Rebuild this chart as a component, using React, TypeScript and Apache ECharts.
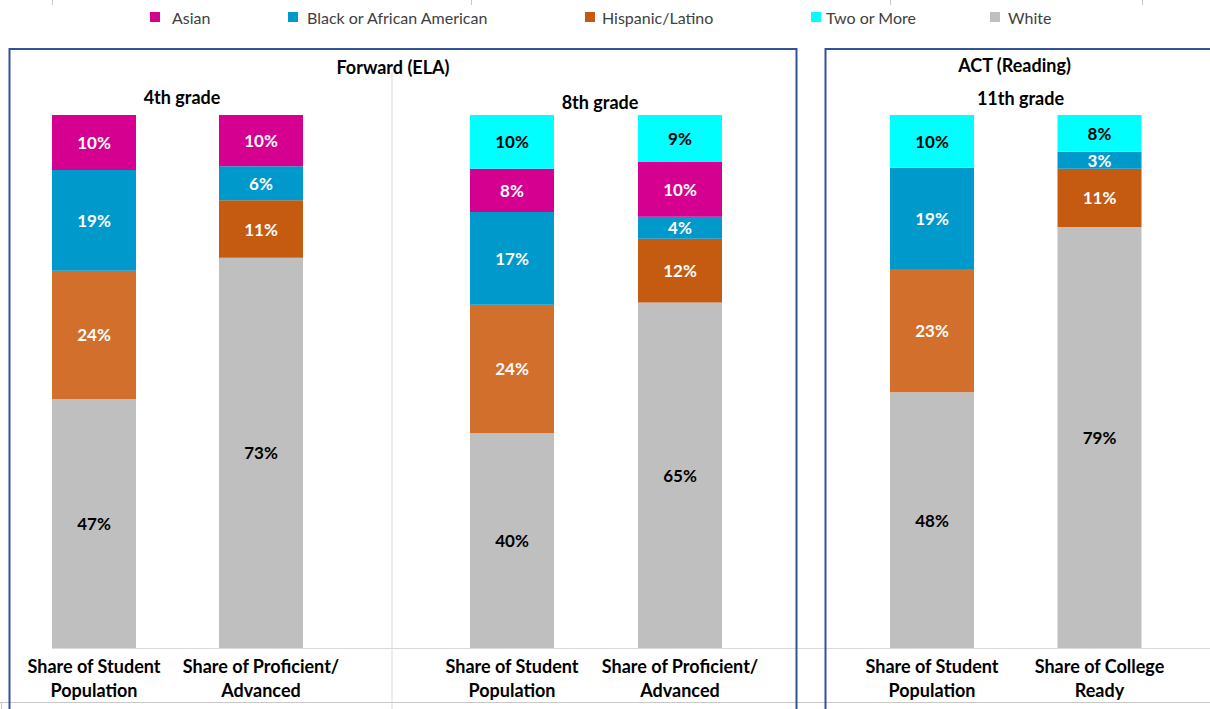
import React, { useEffect, useRef } from "react";
import * as echarts from "echarts";

// ---- data ----
const categories4 = ["Share of Student\nPopulation", "Share of Proficient/\nAdvanced"];
const categories8 = ["Share of Student\nPopulation", "Share of Proficient/\nAdvanced"];
const categories11 = ["Share of Student\nPopulation", "Share of College\nReady"];

const white4 = [46.7, 73.2];
const hispanic4 = [24.1, 10.8];
const black4 = [18.9, 6.4];
const asian4 = [10.3, 9.6];

const white8 = [40.3, 64.8];
const hispanic8 = [24.1, 12.0];
const black8 = [17.4, 4.1];
const asian8 = [8.1, 10.3];
const two8 = [10.1, 8.8];

const white11 = [48.0, 79.0];
const hispanic11 = [23.1, 10.9];
const black11 = [19.0, 3.2];
const two11 = [9.9, 7.5];

const legendNames = ["Asian", "Black or African American", "Hispanic/Latino", "Two or More", "White"];
const panelTitles = ["Forward (ELA)", "ACT (Reading)"];
const gradeTitles = ["4th grade", "8th grade", "11th grade"];

// ---- styles ----
const COLORS: Record<string, string> = {
  Asian: "#D5008F",
  "Black or African American": "#0099CB",
  "Hispanic/Latino": "#C55A11",
  "Two or More": "#00FFFF",
  White: "#BFBFBF",
};
const HISPANIC_POP = "#D26F2C";
const FONT = "Lato, 'Open Sans', sans-serif";

function pctLabel(dark: boolean) {
  return {
    show: true,
    position: "inside",
    formatter: (p: any) => Math.round(p.value) + "%",
    color: dark ? "#000000" : "#FFFFFF",
    fontWeight: "bold",
    fontSize: 17,
    fontFamily: FONT,
  };
}

function makeSeries(name: string, values: number[], idx: number, darkText: boolean, popColor?: string) {
  return {
    type: "bar",
    name,
    xAxisIndex: idx,
    yAxisIndex: idx,
    stack: "s" + idx,
    barWidth: 84,
    clip: true,
    itemStyle: { color: COLORS[name] },
    label: pctLabel(darkText),
    data: values.map((v, i) =>
      popColor && i === 0 ? { value: v, itemStyle: { color: popColor } } : v
    ),
  };
}

export default function App() {
  const ref = useRef<HTMLDivElement>(null);
  useEffect(() => {
    if (!ref.current) return;
    const chart = echarts.init(ref.current, undefined, { renderer: "svg" });

    const grids = [
      { left: 10.5, width: 334, top: 115, height: 533 },
      { left: 428, width: 336, top: 115, height: 533 },
      { left: 848.25, width: 335, top: 115, height: 533 },
    ];
    const cats = [categories4, categories8, categories11];

    const xAxis = cats.map((c, i) => ({
      type: "category",
      gridIndex: i,
      data: c,
      axisLine: { show: false },
      axisTick: { show: false },
      axisLabel: {
        interval: 0,
        margin: 6,
        color: "#000000",
        fontWeight: "bold",
        fontSize: 18,
        lineHeight: 24,
        fontFamily: FONT,
      },
    }));
    const yAxis = cats.map((_, i) => ({
      type: "value",
      gridIndex: i,
      min: 0,
      max: 100,
      show: false,
      splitLine: { show: false },
    }));

    const series = [
      makeSeries("White", white4, 0, true),
      makeSeries("Hispanic/Latino", hispanic4, 0, false, HISPANIC_POP),
      makeSeries("Black or African American", black4, 0, false),
      makeSeries("Asian", asian4, 0, false),

      makeSeries("White", white8, 1, true),
      makeSeries("Hispanic/Latino", hispanic8, 1, false, HISPANIC_POP),
      makeSeries("Black or African American", black8, 1, false),
      makeSeries("Asian", asian8, 1, false),
      makeSeries("Two or More", two8, 1, true),

      makeSeries("White", white11, 2, true),
      makeSeries("Hispanic/Latino", hispanic11, 2, false, HISPANIC_POP),
      makeSeries("Black or African American", black11, 2, false),
      makeSeries("Two or More", two11, 2, true),
    ];

    const legendLefts = [150, 288, 585, 811, 990];
    const legendPads = [7, 4, 2, 0, 3];
    const legend = legendNames.map((n, i) => ({
      data: [n],
      left: legendLefts[i],
      top: 9,
      padding: 0,
      itemWidth: 10,
      itemHeight: 10,
      icon: "rect",
      selectedMode: false,
      textStyle: {
        color: "#404040",
        fontSize: 16,
        fontFamily: FONT,
        padding: [0, 0, 0, legendPads[i]],
      },
    }));

    const gray = "#D9D9D9";
    const blue = "#2F5597";
    const titleText = (text: string, x: number, y: number) => ({
      type: "text",
      z: 10,
      style: {
        text,
        x,
        y,
        align: "center",
        verticalAlign: "middle",
        fill: "#000000",
        fontSize: 18,
        fontWeight: "bold",
        fontFamily: FONT,
      },
    });
    const line = (x1: number, y1: number, x2: number, y2: number, color: string, w: number, z: number) => ({
      type: "line",
      z,
      silent: true,
      shape: { x1, y1, x2, y2 },
      style: { stroke: color, lineWidth: w },
    });

    const graphic = [
      line(52.5, 0, 52.5, 5, "#C8C8C8", 1, 0),
      line(471.5, 0, 471.5, 5, "#C8C8C8", 1, 0),
      line(890.5, 0, 890.5, 5, "#C8C8C8", 1, 0),
      line(1142.5, 0, 1142.5, 5, "#C8C8C8", 1, 0),
      line(392, 72, 392, 709, gray, 1, 0),
      line(52, 648.5, 1210, 648.5, gray, 1, 0),
      line(0, 702.5, 1210, 702.5, "#C8C8C8", 1, 0),
      line(1.5, 702.5, 1.5, 709, "#C8C8C8", 1, 0),
      {
        type: "rect",
        z: 20,
        silent: true,
        shape: { x: 9.5, y: 49, width: 787, height: 700 },
        style: { fill: "none", stroke: blue, lineWidth: 2 },
      },
      {
        type: "rect",
        z: 20,
        silent: true,
        shape: { x: 825.5, y: 49, width: 420, height: 700 },
        style: { fill: "none", stroke: blue, lineWidth: 2 },
      },
      titleText(panelTitles[0], 393, 67),
      titleText(panelTitles[1], 1014.5, 65),
      titleText(gradeTitles[0], 182, 97),
      titleText(gradeTitles[1], 600, 102),
      titleText(gradeTitles[2], 1020.5, 98),
    ];

    chart.setOption({
      animation: false,
      backgroundColor: "#FFFFFF",
      textStyle: { fontFamily: FONT },
      legend,
      grid: grids,
      xAxis,
      yAxis,
      series,
      graphic,
    });
    return () => chart.dispose();
  }, []);

  return (
    <div
      ref={ref}
      style={{ position: "absolute", left: 0, top: 0, width: 1210, height: 709 }}
    />
  );
}
